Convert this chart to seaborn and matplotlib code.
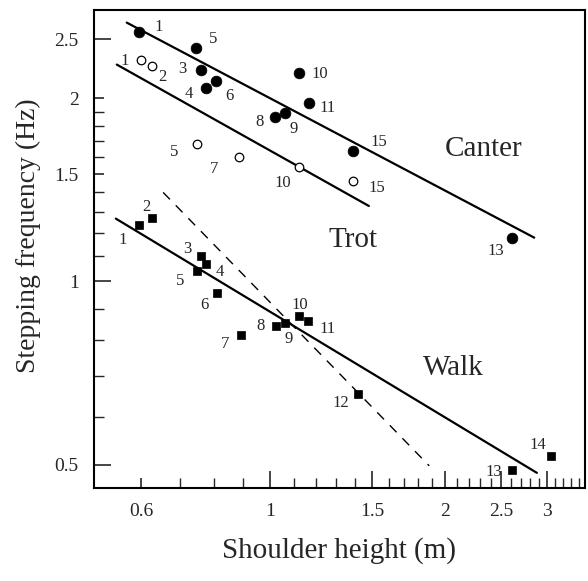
import numpy as np
import pandas as pd
import matplotlib.pyplot as plt
from matplotlib.ticker import FixedLocator, NullFormatter
import seaborn as sns

# ── DATA ────────────────────────────────────────────────
canter_id = [1, 5, 3, 6, 4, 10, 11, 8, 9, 15, 13]
canter_h = [0.596, 0.746, 0.760, 0.806, 0.776, 1.12, 1.166, 1.02, 1.06, 1.388, 2.61]
canter_f = [2.57, 2.42, 2.22, 2.13, 2.08, 2.20, 1.96, 1.86, 1.89, 1.64, 1.18]

trot_id = [1, 2, 5, 7, 10, 15]
trot_h = [0.599, 0.626, 0.75, 0.885, 1.123, 1.388]
trot_f = [2.31, 2.26, 1.68, 1.60, 1.54, 1.46]

walk_id = [1, 2, 3, 4, 5, 6, 7, 8, 9, 10, 11, 12, 13, 14]
walk_h = [0.596, 0.627, 0.761, 0.776, 0.748, 0.811, 0.890, 1.024, 1.061,
          1.123, 1.164, 1.42, 2.61, 3.045]
walk_f = [1.24, 1.27, 1.10, 1.07, 1.04, 0.959, 0.817, 0.844, 0.855,
          0.879, 0.86, 0.654, 0.491, 0.516]

# fitted lines (end points)
canter_fit_h = [0.567, 2.85]
canter_fit_f = [2.66, 1.18]
trot_fit_h = [0.545, 1.48]
trot_fit_f = [2.27, 1.33]
walk_fit_h = [0.543, 2.88]
walk_fit_f = [1.268, 0.485]
dash_fit_h = [0.655, 1.88]
dash_fit_f = [1.40, 0.498]

gait_names = ['Canter', 'Trot', 'Walk']
gait_text_h = [2.33, 1.39, 2.07]
gait_text_f = [1.65, 1.17, 0.722]

# ── LABEL OFFSETS (pixels, x right / y up) ──────────────
canter_off = [(19, 7), (17, 11), (-18, 3), (14, -13), (-17, -4), (21, 1),
              (19, -3), (-15, -3), (9, -14), (26, 11), (-16, -11)]
trot_off = [(-16, 1), (11, -9), (-23, -6), (-25, -10), (-16, -14), (24, -5)]
walk_off = [(-17, -13), (-6, 13), (-14, 9), (14, -6), (-17, -8), (-13, -10),
            (-15, -7), (-15, 2), (4, -14), (1, 13), (19, -6), (-18, -7),
            (-18, 0), (-13, 13)]

# ── PLOT ────────────────────────────────────────────────
sns.set_theme(style="ticks")
plt.rcParams['font.family'] = ['Liberation Serif', 'DejaVu Serif']

dpi = 100
fig = plt.figure(figsize=(5.88, 5.81), dpi=dpi)
ax = fig.add_axes([94 / 588, 1 - 488 / 581, (585 - 94) / 588, (488 - 10) / 581])

canter = pd.DataFrame({'h': canter_h, 'f': canter_f})
trot = pd.DataFrame({'h': trot_h, 'f': trot_f})
walk = pd.DataFrame({'h': walk_h, 'f': walk_f})

for fx, fy in [(canter_fit_h, canter_fit_f), (trot_fit_h, trot_fit_f),
               (walk_fit_h, walk_fit_f)]:
    sns.lineplot(x=fx, y=fy, ax=ax, color='black', lw=1.6)
ax.plot(dash_fit_h, dash_fit_f, color='black', lw=1.0, dashes=(7, 6))

sns.scatterplot(data=canter, x='h', y='f', ax=ax, marker='o', s=60,
                color='black', edgecolor='black', linewidth=0.5, zorder=3)
sns.scatterplot(data=trot, x='h', y='f', ax=ax, marker='o', s=38,
                facecolor='white', edgecolor='black', linewidth=0.9, zorder=3)
sns.scatterplot(data=walk, x='h', y='f', ax=ax, marker='s', s=28,
                color='black', edgecolor='black', linewidth=0.5, zorder=3)

k = 72 / dpi
for ids, hs, fs, offs in [(canter_id, canter_h, canter_f, canter_off),
                          (trot_id, trot_h, trot_f, trot_off),
                          (walk_id, walk_h, walk_f, walk_off)]:
    for i, h, f, (dx, dy) in zip(ids, hs, fs, offs):
        ax.annotate(str(i), (h, f), xytext=(dx * k, dy * k), textcoords='offset points',
                    ha='center', va='center_baseline', fontsize=12)

for name, h, f in zip(gait_names, gait_text_h, gait_text_f):
    ax.text(h, f, name, fontsize=21, ha='center', va='center')

ax.set_xscale('log')
ax.set_yscale('log')
ax.set_xlim(0.498, 3.485)
ax.set_ylim(0.458, 2.79)

xmaj = [0.6, 1, 1.5, 2, 2.5, 3]
xmin = [0.7, 0.8, 0.9] + [round(v, 1) for v in np.arange(1.1, 3.5, 0.1)
                           if round(v, 1) not in xmaj]
ax.xaxis.set_major_locator(FixedLocator(xmaj))
ax.xaxis.set_minor_locator(FixedLocator(xmin))
ax.set_xticklabels(['0.6', '1', '1.5', '2', '2.5', '3'])
ax.xaxis.set_minor_formatter(NullFormatter())

ymaj = [0.5, 1, 1.5, 2, 2.5]
ymin = [0.6, 0.7, 0.8, 0.9] + [round(v, 1) for v in np.arange(1.1, 2.0, 0.1)
                                if round(v, 1) not in ymaj]
ax.yaxis.set_major_locator(FixedLocator(ymaj))
ax.yaxis.set_minor_locator(FixedLocator(ymin))
ax.set_yticklabels(['0.5', '1', '1.5', '2', '2.5'])
ax.yaxis.set_minor_formatter(NullFormatter())

ax.tick_params(which='major', direction='in', length=12, width=1.2,
               labelsize=14, pad=11, top=False, right=False)
ax.tick_params(which='minor', direction='in', length=7, width=1.0,
               top=False, right=False)
# shorter ticks at 0.6 (x) and 1.5, 2 (y)
ax.xaxis.get_major_ticks()[0].tick1line.set_markersize(7)
for t in ax.yaxis.get_major_ticks()[2:4]:
    t.tick1line.set_markersize(7)

for sp in ax.spines.values():
    sp.set_linewidth(1.5)
    sp.set_color('black')

ax.set_xlabel('Shoulder height (m)', fontsize=21, labelpad=12)
ax.set_ylabel('Stepping frequency (Hz)', fontsize=20, labelpad=8)
ax.yaxis.set_label_coords(-0.108, 0.527)

fig.savefig('out.png', dpi=dpi)
